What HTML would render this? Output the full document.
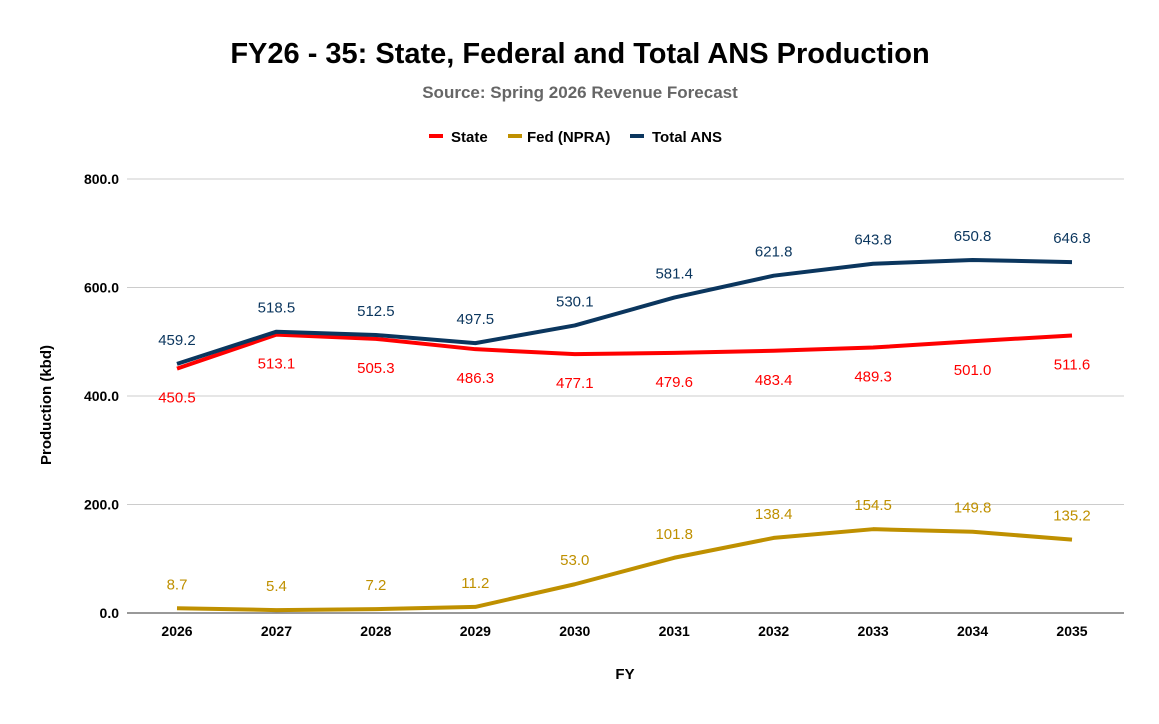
<!DOCTYPE html>
<html><head><meta charset="utf-8"><style>
body{margin:0;background:#fff;}
svg text{font-family:"Liberation Sans",Arial,sans-serif;}
</style></head><body>
<svg id="chart" width="1159" height="719" viewBox="0 0 1159 719" xmlns="http://www.w3.org/2000/svg">
<rect width="1159" height="719" fill="#fff"/>
<text x="580" y="63" text-anchor="middle" font-size="29" font-weight="bold" fill="#000">FY26 - 35: State, Federal and Total ANS Production</text>
<text x="580" y="98" text-anchor="middle" font-size="17" font-weight="bold" fill="#666">Source: Spring 2026 Revenue Forecast</text>
<g>
<g><line x1="429" y1="136" x2="443" y2="136" stroke="#ff0000" stroke-width="4"/><text x="451" y="142" font-size="15" font-weight="bold">State</text></g>
<g><line x1="508" y1="136" x2="522" y2="136" stroke="#bf9000" stroke-width="4"/><text x="527" y="142" font-size="15" font-weight="bold">Fed (NPRA)</text></g>
<g><line x1="630" y1="136" x2="644" y2="136" stroke="#0b365e" stroke-width="4"/><text x="652" y="142" font-size="15" font-weight="bold">Total ANS</text></g>
</g>
<g id="grid"></g>
<g id="yticks"></g>
<g id="xticks"></g>
<g id="series"></g>
<text transform="translate(51,405) rotate(-90)" text-anchor="middle" font-size="15" font-weight="bold">Production (kbd)</text>
<text x="625" y="679" text-anchor="middle" font-size="15" font-weight="bold">FY</text>
</svg>
<script>
const years=["2026","2027","2028","2029","2030","2031","2032","2033","2034","2035"];
const stateVals=[450.5,513.1,505.3,486.3,477.1,479.6,483.4,489.3,501.0,511.6];
const fedVals=[8.7,5.4,7.2,11.2,53.0,101.8,138.4,154.5,149.8,135.2];
const totalVals=[459.2,518.5,512.5,497.5,530.1,581.4,621.8,643.8,650.8,646.8];
const yTicks=[0,200,400,600,800];
const NS="http://www.w3.org/2000/svg";
function y(v){return 613-v*0.5425;}
function x(i){return 177+i*(1072-177)/9;}
function mk(tag,attrs,parent){const e=document.createElementNS(NS,tag);for(const k in attrs)e.setAttribute(k,attrs[k]);parent.appendChild(e);return e;}
const grid=document.getElementById('grid'),yt=document.getElementById('yticks'),xt=document.getElementById('xticks'),ser=document.getElementById('series');
yTicks.forEach(t=>{
 const l=mk('line',{x1:127,x2:1124,y1:y(t),y2:y(t),stroke:t===0?'#333':'#ccc','stroke-width':1},grid);
 
 
 const tx=mk('text',{x:119,y:y(t)+5,'text-anchor':'end','font-size':14,'font-weight':'bold'},yt);
 tx.textContent=t.toFixed(1);
 
 
});
years.forEach((yr,i)=>{
 const tx=mk('text',{x:x(i),y:636,'text-anchor':'middle','font-size':14,'font-weight':'bold'},xt);
 tx.textContent=yr;
 
 
});
function draw(vals,color,name,off){
 const p=mk('polyline',{points:vals.map((v,i)=>x(i)+','+y(v)).join(' '),fill:'none',stroke:color,'stroke-width':4,'stroke-linejoin':'round'},ser);
 
 
 vals.forEach((v,i)=>{
  const t=mk('text',{x:x(i),y:y(v)+off,'text-anchor':'middle','font-size':15,fill:color},ser);
  t.textContent=v.toFixed(1);
  
  
 });
}
draw(fedVals,'#bf9000','fed',-19);
draw(stateVals,'#ff0000','state',34);
draw(totalVals,'#0b365e','total',-19);
</script>
</body></html>
